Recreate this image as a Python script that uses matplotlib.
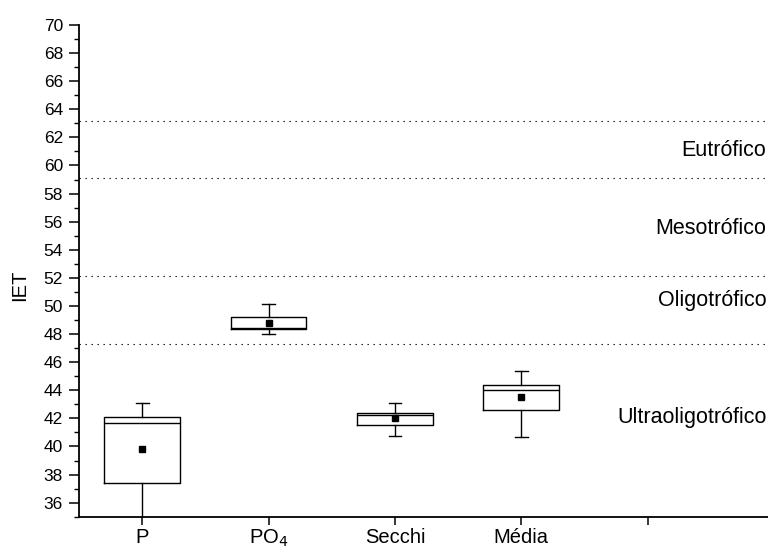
import numpy as np
import matplotlib
matplotlib.use('Agg')
import matplotlib.pyplot as plt
from matplotlib.ticker import MultipleLocator

plt.rcParams['font.family'] = ['Liberation Sans', 'DejaVu Sans']

# box statistics
labels = ['P', 'PO$_4$', 'Secchi', 'Média', '']
q1 = [37.42, 48.35, 41.54, 42.61]
med = [41.7, 48.42, 42.25, 44.0]
q3 = [42.13, 49.2, 42.38, 44.39]
whislo = [34.0, 47.98, 40.77, 40.7]
whishi = [43.09, 50.12, 43.06, 45.4]
means = [39.81, 48.77, 42.0, 43.49]

# trophic state limits and class names
limits = [63.17, 59.14, 52.12, 47.3]
classes = ['Eutrófico', 'Mesotrófico', 'Oligotrófico', 'Ultraoligotrófico']
class_y = [61.1, 55.5, 50.4, 42.06]

fig = plt.figure(figsize=(7.68, 5.5), dpi=100)
ax = fig.add_axes([79/768, 33.3/550, (774-79)/768, (516.7-25)/550])

stats = []
for i in range(len(q1)):
    stats.append({'q1': q1[i], 'med': med[i], 'q3': q3[i], 'whislo': whislo[i],
                  'whishi': whishi[i], 'mean': means[i], 'fliers': []})

ax.bxp(stats, positions=[1, 2, 3, 4], widths=0.6, capwidths=0.1,
       showmeans=True, patch_artist=False,
       boxprops=dict(color='black', linewidth=1.0),
       medianprops=dict(color='black', linewidth=1.0),
       whiskerprops=dict(color='black', linewidth=1.0),
       capprops=dict(color='black', linewidth=1.0),
       meanprops=dict(marker='s', markerfacecolor='black', markeredgecolor='black',
                      markersize=3.8))

for y in limits:
    ax.axhline(y, color='black', linewidth=0.8, linestyle=(0, (1.2, 4.2)))

for name, y in zip(classes, class_y):
    ax.text(5.94, y, name, ha='right', va='center', fontsize=15.5)

ax.set_xlim(0.5, 6.0)
ax.set_ylim(35, 70)
ax.set_xticks([1, 2, 3, 4, 5])
ax.set_xticklabels(labels, fontsize=14.5)
ax.yaxis.set_minor_locator(MultipleLocator(1))
ax.set_yticks(np.arange(36, 71, 2))
ax.tick_params(axis='y', labelsize=12.5, direction='out', length=7.5, width=1.1, pad=4)
ax.tick_params(axis='y', which='minor', direction='out', length=3.5, width=1.0)
ax.tick_params(axis='x', direction='out', length=6, width=1.1, pad=2)
ax.spines['top'].set_visible(False)
ax.spines['right'].set_visible(False)
ax.spines['left'].set_linewidth(1.3)
ax.spines['bottom'].set_linewidth(1.3)
ax.set_ylabel('IET', fontsize=14.5)
ax.yaxis.set_label_coords(-0.072, 0.47)

fig.savefig('out.png', dpi=100)
